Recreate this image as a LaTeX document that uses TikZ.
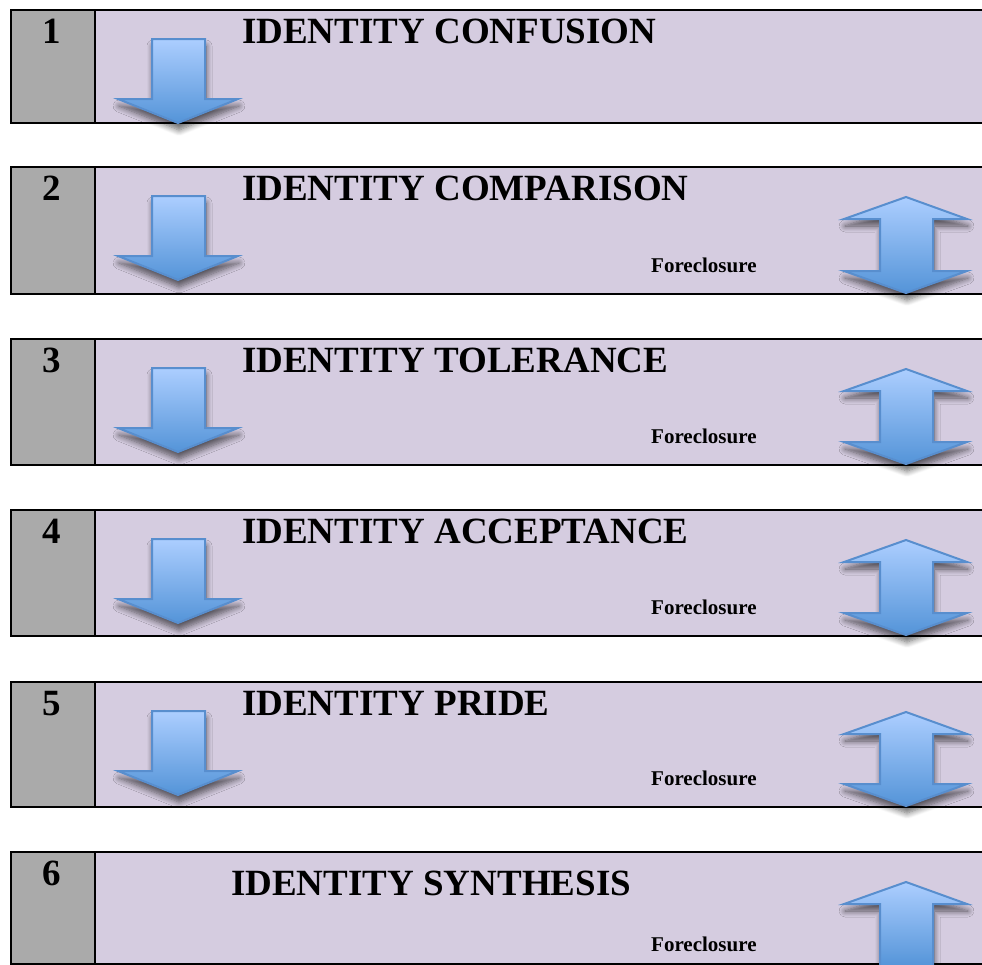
\documentclass[tikz,border=0pt]{standalone}
\usepackage{fontspec}
\setmainfont{Liberation Serif}
\usetikzlibrary{shadows.blur}
\definecolor{cellgray}{RGB}{170,170,170}
\definecolor{lav}{RGB}{213,204,224}
\definecolor{arrtop}{RGB}{172,206,255}
\definecolor{arrbot}{RGB}{84,148,216}
\definecolor{arredge}{RGB}{88,142,206}
\tikzset{
  numcell/.style={draw=black, fill=cellgray, line width=2.4pt, anchor=north west,
    inner sep=0pt, minimum width=84pt},
  stagecell/.style={draw=black, fill=lav, line width=2.4pt, anchor=north west,
    inner sep=0pt, minimum width=1100pt},
  numtext/.style={anchor=base, inner sep=0pt, font=\fontsize{37}{40}\selectfont\bfseries},
  titletext/.style={anchor=base west, inner sep=0pt, font=\fontsize{37}{40}\selectfont\bfseries},
  foretext/.style={anchor=base west, inner sep=0pt, font=\fontsize{21}{24}\selectfont\bfseries},
  arrowshape/.style={draw=arredge, line width=2pt, line join=miter,
    top color=arrtop, bottom color=arrbot,
    blur shadow={shadow xshift=1pt, shadow yshift=-7pt, shadow blur radius=6pt,
      shadow opacity=60, shadow blur steps=8}}
}
\newcommand\DownArr[1]{%
  \path[arrowshape] (152,#1+30) -- (205,#1+30) -- (205,#1+90) -- (238,#1+90)
    -- (178,#1+114) -- (118,#1+90) -- (152,#1+90) -- cycle;}
\newcommand\DblArr[2]{%
  \path[arrowshape] (906,#1+31) -- (967,#1+53) -- (933,#1+53) -- (933,#2-22)
    -- (967,#2-22) -- (906,#2) -- (844,#2-22) -- (880,#2-22) -- (880,#1+53)
    -- (844,#1+53) -- cycle;}
\newcommand\UpArr[2]{%
  \path[arrowshape] (906,#1+31) -- (967,#1+53) -- (933,#1+53) -- (933,#2+4)
    -- (880,#2+4) -- (880,#1+53) -- (844,#1+53) -- cycle;}
\begin{document}
\begin{tikzpicture}[x=1pt,y=-1pt]
\useasboundingbox (0,0) rectangle (982,964);
\clip (0,0) rectangle (982,964);
% row 1
\node[stagecell, minimum height=113pt] (s1) at (94,9) {};
\node[numcell, minimum height=113pt] (c1) at (10,9) {};
\node[numtext] (n1) at (52,43) {1};
\node[titletext] (t1) at (242,43) {IDENTITY CONFUSION};
% row 2
\node[stagecell, minimum height=127pt] (s2) at (94,166) {};
\node[numcell, minimum height=127pt] (c2) at (10,166) {};
\node[numtext] (n2) at (52,200) {2};
\node[titletext] (t2) at (242,200) {IDENTITY COMPARISON};
\node[foretext] (f2) at (651,272) {Foreclosure};
% row 3
\node[stagecell, minimum height=126pt] (s3) at (94,338) {};
\node[numcell, minimum height=126pt] (c3) at (10,338) {};
\node[numtext] (n3) at (52,372) {3};
\node[titletext] (t3) at (242,372) {IDENTITY TOLERANCE};
\node[foretext] (f3) at (651,443) {Foreclosure};
% row 4
\node[stagecell, minimum height=126pt] (s4) at (94,509) {};
\node[numcell, minimum height=126pt] (c4) at (10,509) {};
\node[numtext] (n4) at (52,543) {4};
\node[titletext] (t4) at (242,543) {IDENTITY ACCEPTANCE};
\node[foretext] (f4) at (651,614) {Foreclosure};
% row 5
\node[stagecell, minimum height=125pt] (s5) at (94,681) {};
\node[numcell, minimum height=125pt] (c5) at (10,681) {};
\node[numtext] (n5) at (52,715) {5};
\node[titletext] (t5) at (242,715) {IDENTITY PRIDE};
\node[foretext] (f5) at (651,785) {Foreclosure};
% row 6
\node[stagecell, minimum height=112pt] (s6) at (94,851) {};
\node[numcell, minimum height=112pt] (c6) at (10,851) {};
\node[numtext] (n6) at (52,885) {6};
\node[titletext] (t6) at (231,895) {IDENTITY SYNTHESIS};
\node[foretext] (f6) at (651,951) {Foreclosure};
% arrows
\DownArr{9}
\DownArr{166}
\DownArr{338}
\DownArr{509}
\DownArr{681}
\DblArr{166}{293}
\DblArr{338}{464}
\DblArr{509}{635}
\DblArr{681}{806}
\UpArr{851}{963}
\end{tikzpicture}
\end{document}
